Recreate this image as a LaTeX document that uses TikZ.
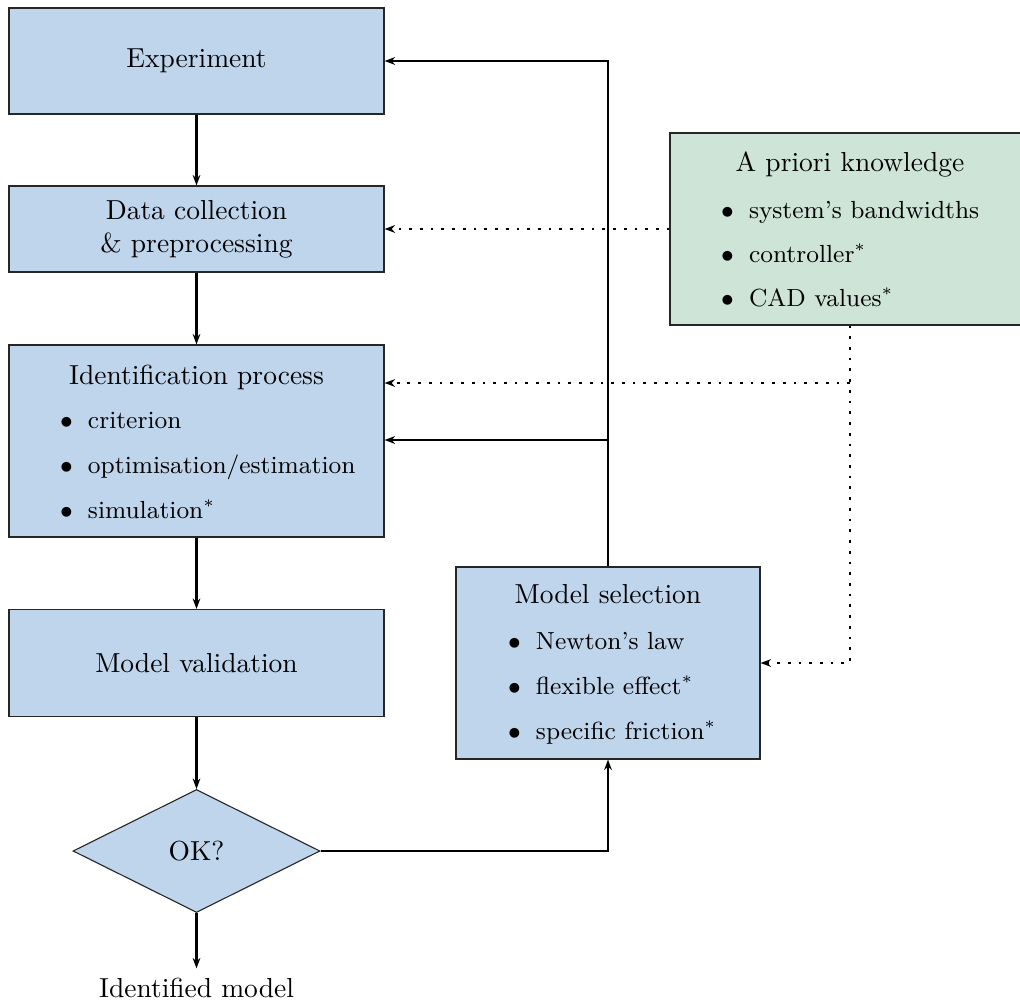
\documentclass[tikz,border=0pt]{standalone}
\usetikzlibrary{arrows.meta,shapes.geometric}
\definecolor{boxblue}{RGB}{190,213,236}
\definecolor{boxgreen}{RGB}{205,228,215}
\newcommand\pxu{0.3636pt}
\begin{document}
\begin{tikzpicture}[x=0.3636pt,y=-0.3636pt,
  block/.style={draw=black!85,line width=0.4pt,fill=boxblue,inner sep=0pt,align=center},
  greenblock/.style={block,fill=boxgreen},
  heading/.style={anchor=base,inner sep=0pt},
  bitem/.style={anchor=base west,inner sep=0pt,font=\small},
  flow/.style={line width=0.75pt,-{Stealth[length=3.8pt,width=2.8pt,inset=1.2pt]}},
  hint/.style={flow,line width=1pt,dash pattern=on 1pt off 2.9pt}]
  \clip (0,0) rectangle (1020,1003);

  % main chain of the identification procedure
  \node[block,minimum width=375*\pxu,minimum height=106*\pxu] (exp) at (196.5,61) {Experiment};
  \node[block,minimum width=375*\pxu,minimum height=86*\pxu] (data) at (196.5,229)
    {Data collection\\ \& preprocessing};
  \node[block,minimum width=375*\pxu,minimum height=192*\pxu] (ident) at (196.5,441) {};
  \node[heading] (identt) at (196.5,384) {Identification process};
  \node[bitem] (i1) at (59.6,428) {$\bullet$\hspace{5.5pt}criterion};
  \node[bitem] (i2) at (59.6,473) {$\bullet$\hspace{5.5pt}optimisation/estimation};
  \node[bitem] (i3) at (59.6,518) {$\bullet$\hspace{5.5pt}simulation$^*$};
  \node[block,minimum width=375*\pxu,minimum height=107*\pxu] (valid) at (196.5,663) {Model validation};
  \node[block,diamond,aspect=2,minimum width=247*\pxu,minimum height=123*\pxu] (ok) at (196.5,851) {OK?};
  \node (idm) at (196.5,988) {Identified model};

  % model structure choice
  \node[block,minimum width=304*\pxu,minimum height=192*\pxu] (sel) at (608,663) {};
  \node[heading] (selt) at (608,603) {Model selection};
  \node[bitem] (s1) at (507.6,649) {$\bullet$\hspace{5.5pt}Newton's law};
  \node[bitem] (s2) at (507.6,694) {$\bullet$\hspace{5.5pt}flexible effect$^*$};
  \node[bitem] (s3) at (507.6,739) {$\bullet$\hspace{5.5pt}specific friction$^*$};

  % prior knowledge
  \node[greenblock,minimum width=360*\pxu,minimum height=192*\pxu] (apk) at (850,229) {};
  \node[heading] (apkt) at (850,171) {A priori knowledge};
  \node[bitem] (a1) at (720.6,218) {$\bullet$\hspace{5.5pt}system's bandwidths};
  \node[bitem] (a2) at (720.6,262) {$\bullet$\hspace{5.5pt}controller$^*$};
  \node[bitem] (a3) at (720.6,306) {$\bullet$\hspace{5.5pt}CAD values$^*$};

  % junctions
  \coordinate (j1) at (608,440);
  \coordinate (j2) at (850,383);

  % solid connectors
  \draw[flow] (exp) -- (data);
  \draw[flow] (data) -- (ident);
  \draw[flow] (ident) -- (valid);
  \draw[flow] (valid) -- (ok);
  \draw[flow] (ok) -- (idm);
  \draw[flow] (ok.east) -| (sel.south);
  \draw[flow] (sel.north) |- (exp.east);
  \draw[flow] (j1) -- (j1 -| ident.east);

  % dotted connectors
  \draw[hint] (apk.west) -- (data.east);
  \draw[hint] (apk.south) |- (sel.east);
  \draw[hint] (j2) -- (j2 -| ident.east);
\end{tikzpicture}
\end{document}
